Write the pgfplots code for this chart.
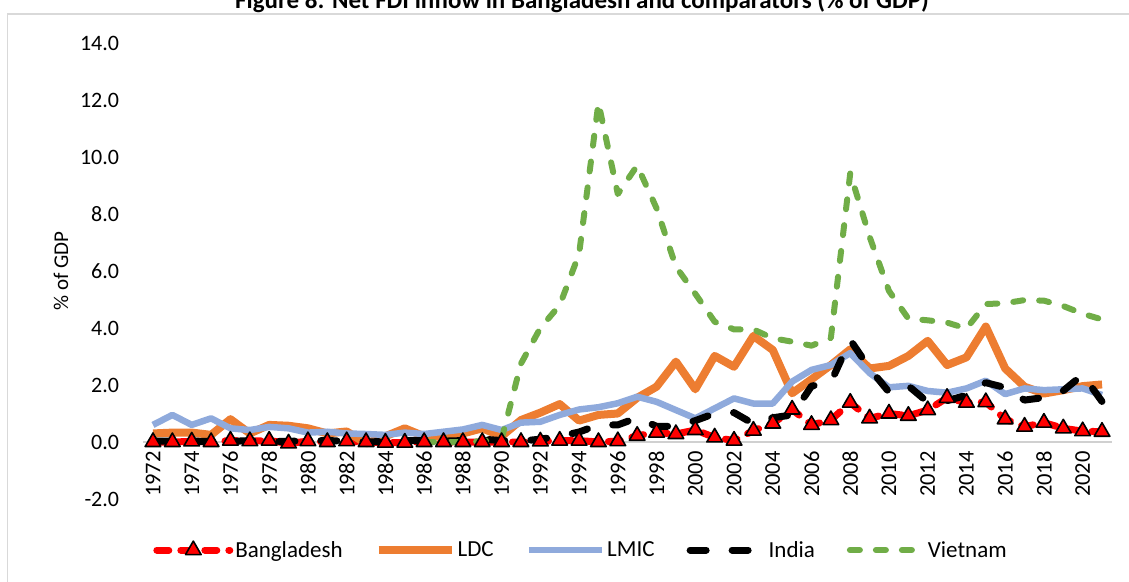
\documentclass[border=0pt]{standalone}
\usepackage{fontspec}
\setmainfont{Carlito}
\usepackage{pgfplots}
\usepackage{pgfplotstable}
\pgfplotsset{compat=1.18}
\definecolor{ldc}{HTML}{ED7D31}
\definecolor{lmic}{HTML}{8FAADC}
\definecolor{vnm}{HTML}{70AD47}
\definecolor{framec}{HTML}{D9D9D9}
\definecolor{axc}{HTML}{D0D0D0}

\pgfplotstableread{
year bgd ldc lmic ind
1972 0.00 0.30 0.60 0.03
1973 0.00 0.33 0.95 0.03
1974 0.02 0.33 0.60 0.03
1975 0.00 0.25 0.83 0.02
1976 0.05 0.80 0.48 0.02
1977 0.03 0.30 0.42 0.05
1978 0.05 0.60 0.53 0.02
1979 -0.05 0.57 0.48 0.02
1980 0.03 0.48 0.33 0.05
1981 0.00 0.30 0.36 0.05
1982 0.03 0.37 0.30 0.03
1983 0.00 -0.05 0.28 0.00
1984 -0.02 0.20 0.25 0.02
1985 -0.02 0.48 0.33 0.05
1986 0.00 0.20 0.28 0.05
1987 0.00 0.20 0.36 0.03
1988 0.00 0.30 0.44 0.05
1989 0.00 0.48 0.60 0.10
1990 0.00 0.20 0.42 0.05
1991 0.00 0.77 0.68 0.03
1992 0.02 1.03 0.71 0.10
1993 0.05 1.33 0.95 0.20
1994 0.05 0.75 1.14 0.35
1995 0.00 0.95 1.22 0.60
1996 0.03 1.00 1.36 0.60
1997 0.22 1.55 1.59 0.85
1998 0.33 1.94 1.41 0.55
1999 0.28 2.82 1.12 0.55
2000 0.42 1.85 0.83 0.75
2001 0.16 3.02 1.18 1.00
2002 0.05 2.64 1.53 1.03
2003 0.40 3.72 1.35 0.64
2004 0.65 3.23 1.35 0.85
2005 1.14 1.71 2.12 0.95
2006 0.60 2.20 2.53 1.96
2007 0.77 2.70 2.70 2.10
2008 1.38 3.25 3.12 3.58
2009 0.83 2.58 2.42 2.58
2010 1.00 2.67 1.92 1.75
2011 0.92 3.02 1.97 1.97
2012 1.12 3.55 1.79 1.40
2013 1.55 2.70 1.73 1.45
2014 1.38 2.97 1.88 1.64
2015 1.40 4.05 2.15 2.08
2016 0.80 2.58 1.68 1.91
2017 0.54 1.94 1.88 1.47
2018 0.68 1.70 1.82 1.56
2019 0.48 1.82 1.85 1.80
2020 0.38 1.96 1.88 2.36
2021 0.36 2.02 1.65 1.42
}\maindata

\pgfplotstableread{
year vnm
1986 0.00
1987 0.00
1988 0.00
1989 0.03
1990 0.10
1991 2.75
1992 4.00
1993 4.80
1994 6.60
1995 11.90
1996 8.70
1997 9.70
1998 8.20
1999 6.15
2000 5.20
2001 4.22
2002 3.95
2003 3.95
2004 3.64
2005 3.52
2006 3.38
2007 3.65
2008 9.43
2009 7.20
2010 5.30
2011 4.33
2012 4.27
2013 4.19
2014 3.98
2015 4.84
2016 4.87
2017 4.98
2018 4.96
2019 4.77
2020 4.50
2021 4.30
}\vnmdata

\begin{document}
\begin{tikzpicture}[x=1pt,y=1pt]
\draw[framec, line width=1.5pt] (7.5,-5) -- (7.5,567) -- (1135,567);
\node[font=\bfseries\fontsize{25}{29}\selectfont, anchor=base] at (582,572) {Figure 8: Net FDI inflow in Bangladesh and comparators (\% of GDP)};
\node[rotate=90, font=\fontsize{21}{25}\selectfont] at (61,310) {\% of GDP};
\begin{axis}[
  at={(143.3pt,82pt)}, anchor=south west,
  scale only axis, width=968.4pt, height=456pt,
  xmin=1971.5, xmax=2021.5, ymin=-2, ymax=14,
  clip=false,
  axis x line=middle, axis y line=left,
  hide obscured x ticks=false, hide obscured y ticks=false,
  x axis line style={-, draw=axc, line width=1.5pt},
  y axis line style={draw=none},
  major tick length=0pt, tick style={draw=none},
  xtick={1972,1974,...,2020},
  ytick={-2,0,...,14},
  xticklabel style={rotate=90, anchor=east, inner sep=0pt, font=\fontsize{22.5}{24}\selectfont, /pgf/number format/1000 sep={}},
  xticklabel shift=9pt,
  yticklabel style={anchor=east, inner sep=0pt, font=\fontsize{22}{24}\selectfont,
    /pgf/number format/.cd, fixed, fixed zerofill, precision=1},
  yticklabel shift=24pt,
  /pgf/number format/assume math mode=true,
  legend columns=5,
  legend style={draw=none, fill=none, at={(0.452,-0.112)}, anchor=center,
    font=\fontsize{23}{26}\selectfont,
    /tikz/every even column/.append style={column sep=30pt},
    nodes={inner sep=2pt}},
  legend image code/.code={\draw[#1] (0pt,0pt) -- (73pt,0pt);},
]
\addplot[red, line width=7pt, dash pattern=on 12pt off 12pt, line cap=round, line join=round,
  mark=triangle*, mark size=9pt, mark options={solid, fill=red, draw=black, line width=1.6pt},
  legend image code/.code={\draw[##1, mark repeat=2, mark phase=2] plot coordinates {(0pt,0pt) (36.5pt,0pt) (73pt,0pt)};}]
  table[x=year, y=bgd] {\maindata};
\addlegendentry{Bangladesh}
\addplot[ldc, line width=8pt, line join=round, no markers] table[x=year, y=ldc] {\maindata};
\addlegendentry{LDC}
\addplot[lmic, line width=6.5pt, line join=round, no markers] table[x=year, y=lmic] {\maindata};
\addlegendentry{LMIC}
\addplot[black, line width=7pt, dash pattern=on 16pt off 26pt, line cap=round, line join=round, no markers] table[x=year, y=ind] {\maindata};
\addlegendentry{India}
\addplot[vnm, line width=6pt, dash pattern=on 10pt off 16pt, line cap=round, line join=round, no markers] table[x=year, y=vnm] {\vnmdata};
\addlegendentry{Vietnam}
\end{axis}
\pgfresetboundingbox
\useasboundingbox (0,0) rectangle (1129,581);
\end{tikzpicture}
\end{document}
